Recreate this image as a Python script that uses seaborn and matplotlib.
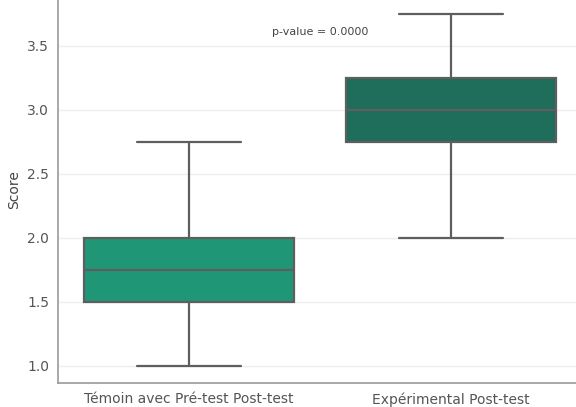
import numpy as np
import pandas as pd
import matplotlib
matplotlib.use("Agg")
import matplotlib.pyplot as plt
import seaborn as sns

# Groups and score distributions (five-number summaries reproduced with small samples)
groups = ["Témoin avec Pré-test Post-test", "Expérimental Post-test"]
temoin_scores = [1.0, 1.5, 1.5, 1.75, 1.75, 1.75, 2.0, 2.0, 2.75]
experimental_scores = [2.0, 2.75, 2.75, 3.0, 3.0, 3.0, 3.25, 3.25, 3.75]
group_colors = ["#1f9777", "#1f6d5b"]
p_value = 0.0000

df = pd.DataFrame({
    "Groupe": [groups[0]] * len(temoin_scores) + [groups[1]] * len(experimental_scores),
    "Score": temoin_scores + experimental_scores,
})

sns.set_theme(style="whitegrid")
fig = plt.figure(figsize=(5.76, 4.07), dpi=100)
ax = fig.add_axes([58 / 576, 24 / 407, (582 - 58) / 576, (407 + 3.6 - 24) / 407])

sns.boxplot(data=df, x="Groupe", y="Score", hue="Groupe", palette=group_colors,
            saturation=1, width=0.8, linewidth=1.6, linecolor="#5e5e5e",
            legend=False, ax=ax)

ax.text(0.5, 3.61, f"p-value = {p_value:.4f}", ha="center", va="center",
        fontsize=8, color="#444444")

ax.set_xlabel("")
ax.set_ylabel("Score", fontsize=10, color="#444444")
ax.set_ylim(0.867, 3.8875)
ax.set_yticks([1.0, 1.5, 2.0, 2.5, 3.0, 3.5])
ax.tick_params(axis="both", labelsize=10, colors="#888888", length=3, width=0.8)
ax.tick_params(axis="both", labelcolor="#555555")
ax.grid(axis="y", color="#eeeeee", linewidth=1)
for side in ["left", "bottom"]:
    ax.spines[side].set_color("#999999")
    ax.spines[side].set_linewidth(1.2)

fig.savefig("out.png", dpi=100)
